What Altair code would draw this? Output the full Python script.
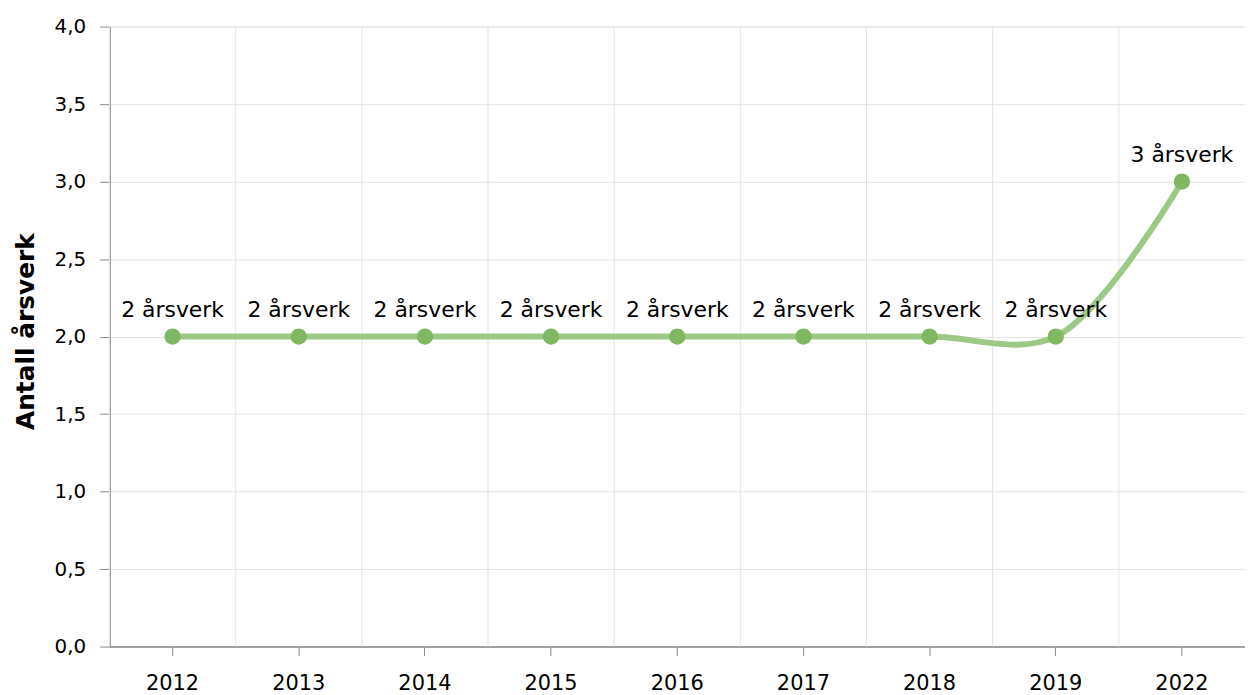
import altair as alt
import pandas as pd

years = ["2012", "2013", "2014", "2015", "2016", "2017", "2018", "2019", "2022"]
values = [2, 2, 2, 2, 2, 2, 2, 2, 3]
labels = ["2 årsverk", "2 årsverk", "2 årsverk", "2 årsverk", "2 årsverk",
          "2 årsverk", "2 årsverk", "2 årsverk", "3 årsverk"]
y_ticks = [0, 0.5, 1.0, 1.5, 2.0, 2.5, 3.0, 3.5, 4.0]

df = pd.DataFrame({"year": years, "value": values, "label": labels})

FONT = "DejaVu Sans"
xscale = alt.Scale(type="band", domain=years, paddingInner=0, paddingOuter=0)
yscale = alt.Scale(domain=[0, 4], nice=False)

x_axis = alt.Axis(grid=False, labelAngle=0, labelFont=FONT, labelFontSize=21,
                  labelColor="#000000", tickColor="#888888", tickSize=9,
                  domainColor="#888888", labelPadding=17, domainWidth=1.5)

base = alt.Chart(df)

grid = base.mark_rule(color="#e3e3e3", strokeWidth=1).encode(
    x=alt.X("year:N", scale=xscale, bandPosition=0, axis=x_axis, title=None),
)

x_enc = alt.X("year:N", scale=xscale, bandPosition=0.5, title=None, axis=x_axis)
y_enc = alt.Y(
    "value:Q", scale=yscale, title="Antall årsverk",
    axis=alt.Axis(values=y_ticks, labelExpr="replace(format(datum.value, '.1f'), '.', ',')",
                  labelFont=FONT, labelFontSize=20, labelColor="#000000",
                  tickColor="#888888", tickSize=10, labelPadding=14,
                  domainColor="#888888", domainWidth=1.5, gridColor="#e3e3e3",
                  titleFont=FONT, titleFontSize=25, titleFontWeight="bold",
                  titleColor="#000000", titlePadding=16, titleY=306),
)

line = base.mark_line(color="#9cc985", strokeWidth=6, interpolate="catmull-rom").encode(
    x=x_enc, y=y_enc
)
points = base.mark_circle(color="#80b862", size=270, opacity=1).encode(x=x_enc, y=y_enc)
text = base.mark_text(font=FONT, fontSize=22, color="#000000", dy=-20, baseline="alphabetic").encode(
    x=x_enc, y=y_enc, text="label:N"
)

chart = alt.layer(grid, line, points, text).properties(
    width=1141, height=623,
    autosize=alt.AutoSizeParams(type="none"),
    padding={"left": 102, "top": 17, "right": 0, "bottom": 48},
).configure_view(stroke="#e3e3e3")

chart.save("out.html", embed_options={"renderer": "svg", "actions": False})
